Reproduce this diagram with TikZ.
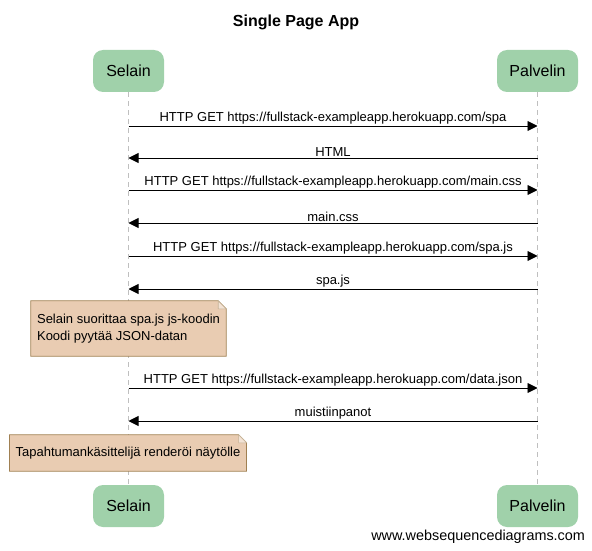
\documentclass[tikz,border=0pt]{standalone}
\usepackage{fontspec}
\setmainfont{Liberation Sans}
\usetikzlibrary{arrows.meta,backgrounds}
\definecolor{actorgreen}{RGB}{160,209,170}
\definecolor{notetan}{RGB}{233,204,178}
\definecolor{noteedge}{RGB}{160,128,82}
\begin{document}
\begin{tikzpicture}[x=1pt, y=-1pt,
  actor/.style={fill=actorgreen, rounded corners=10pt, minimum height=42pt, font=\fontsize{16}{19}\selectfont},
  msg/.style={-{Triangle[length=10pt,width=10pt]}, line width=0.9pt},
  lifeline/.style={draw=gray!50, dash pattern=on 5pt off 4pt, line width=0.7pt},
  note/.style={align=left, inner xsep=6pt, font=\fontsize{13}{17}\selectfont},
  notepaper/.style={fill=notetan, draw=noteedge, line width=0.8pt}]
\useasboundingbox (0,0) rectangle (592,551);
\node[font=\bfseries\fontsize{16}{19}\selectfont] (title) at (296,22) {Single Page App};

% participants
\node[actor, minimum width=71pt] (sel) at (128.5,71) {Selain};
\node[actor, minimum width=81pt] (pal) at (537.5,71) {Palvelin};
\node[actor, minimum width=71pt] (selb) at (128.5,506) {Selain};
\node[actor, minimum width=81pt] (palb) at (537.5,506) {Palvelin};

% messages
\begin{scope}[font=\fontsize{13}{15}\selectfont]
\foreach \y/\txt in {126/{HTTP GET https://fullstack-exampleapp.herokuapp.com/spa},
    190/{HTTP GET https://fullstack-exampleapp.herokuapp.com/main.css},
    256/{HTTP GET https://fullstack-exampleapp.herokuapp.com/spa.js},
    388/{HTTP GET https://fullstack-exampleapp.herokuapp.com/data.json}}
  \draw[msg] (sel |- 0,\y) -- (pal |- 0,\y) node[midway, above, inner sep=1.2pt] {\txt};
\foreach \y/\txt in {158/HTML, 223/main.css, 289/spa.js, 421/muistiinpanot}
  \draw[msg] (pal |- 0,\y) -- (sel |- 0,\y) node[midway, above, inner sep=1.2pt] {\txt};
\end{scope}

% notes
\node[note, minimum width=195pt, minimum height=55pt] (think) at (128.5,328.5) {Selain suorittaa spa.js js-koodin\\Koodi pyytää JSON-datan};
\node[note, minimum width=236pt, minimum height=36pt] (render) at (128,453) {Tapahtumankäsittelijä renderöi näytölle};

\begin{scope}[on background layer]
\draw[lifeline] (sel) -- (selb);
\draw[lifeline] (pal) -- (palb);
\foreach \n in {think, render}{
  \draw[notepaper] (\n.south west) -- (\n.south east) -- ([yshift=-8pt]\n.north east)
    -- ([xshift=-8pt]\n.north east) -- (\n.north west) -- cycle;
  \draw[noteedge!60, fill=notetan!55, line width=0.6pt] ([xshift=-8pt]\n.north east)
    |- ([yshift=-8pt]\n.north east) -- cycle;
}
\end{scope}

\node[anchor=east, font=\fontsize{14.4}{17}\selectfont] (wsd) at (588.5,537) {www.websequencediagrams.com};
\end{tikzpicture}
\end{document}
